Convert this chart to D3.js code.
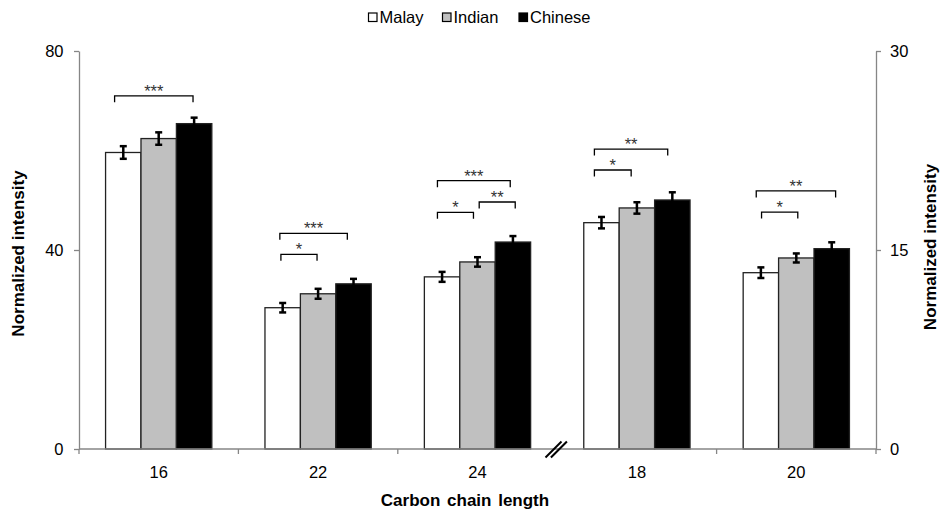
<!DOCTYPE html>
<html>
<head>
<meta charset="utf-8">
<script src="https://cdn.jsdelivr.net/npm/d3@7"></script>
<style>
html,body{margin:0;padding:0;background:#fff;}
svg{display:block;font-family:"Liberation Sans",Arial,sans-serif;}
</style>
</head>
<body>
<svg id="chart" width="948" height="510"></svg>
<script>
// ---- data ----
const categories = ["16", "22", "24", "18", "20"];
const categoryAxis = ["left", "left", "left", "right", "right"];
const seriesNames = ["Malay", "Indian", "Chinese"];
const seriesColors = ["#ffffff", "#c0c0c0", "#000000"];
const malay   = [59.6, 28.4, 34.6, 17.06, 13.29];
const indian  = [62.4, 31.2, 37.6, 18.17, 14.40];
const chinese = [65.4, 33.2, 41.6, 18.77, 15.10];
const malayErr   = [1.27, 0.95, 1.0, 0.43, 0.40];
const indianErr  = [1.25, 1.0, 0.95, 0.43, 0.34];
const chineseErr = [1.2, 1.0, 1.2, 0.58, 0.48];
const leftTicks = [0, 40, 80];
const rightTicks = [0, 15, 30];
// significance brackets: category, start/end as fraction of the group, level (axis units), label
const brackets = [
  {cat: "16", from: 0.085, to: 0.823, level: 71.0, label: "***"},
  {cat: "22", from: 0.14, to: 0.775, level: 43.36, label: "***"},
  {cat: "22", from: 0.15, to: 0.49, level: 39.13, label: "*"},
  {cat: "24", from: 0.123, to: 0.808, level: 53.93, label: "***"},
  {cat: "24", from: 0.123, to: 0.462, level: 47.58, label: "*"},
  {cat: "24", from: 0.516, to: 0.855, level: 49.65, label: "**"},
  {cat: "18", from: 0.10, to: 0.79, level: 22.61, label: "**"},
  {cat: "18", from: 0.10, to: 0.446, level: 21.03, label: "*"},
  {cat: "20", from: 0.123, to: 0.87, level: 19.45, label: "**"},
  {cat: "20", from: 0.173, to: 0.514, level: 17.86, label: "*"}
];

const values = [malay, indian, chinese];
const errors = [malayErr, indianErr, chineseErr];

// ---- layout ----
const svg = d3.select("#chart");
const X0 = 79, X1 = 876, Y0 = 449, Y1 = 51;
const axisColor = "#868686";
const FS = 16.5;

const x = d3.scaleBand().domain(categories).range([X0, X1]).paddingInner(1/3).paddingOuter(1/6);
const xs = d3.scaleBand().domain(d3.range(seriesNames.length)).range([0, x.bandwidth()]);
const yL = d3.scaleLinear().domain([0, 80]).range([Y0, Y1]);
const yR = d3.scaleLinear().domain([0, 30]).range([Y0, Y1]);
const yFor = i => categoryAxis[i] === "left" ? yL : yR;

// bars
categories.forEach((c, ci) => {
  const y = yFor(ci);
  const g = svg.append("g").attr("transform", `translate(${x(c)},0)`);
  seriesNames.forEach((s, si) => {
    const v = values[si][ci];
    g.append("rect")
      .attr("x", xs(si)).attr("width", xs.bandwidth())
      .attr("y", y(v)).attr("height", y(0) - y(v))
      .attr("fill", seriesColors[si])
      .attr("stroke", "#222").attr("stroke-width", 1.3);
  });
});

// axes
const leftAxis = d3.axisLeft(yL).tickValues(leftTicks).tickSize(5).tickSizeOuter(0).tickPadding(10.5);
const rightAxis = d3.axisRight(yR).tickValues(rightTicks).tickSize(5).tickSizeOuter(0).tickPadding(9);
function styleAxis(g){
  g.select(".domain").attr("stroke", axisColor).attr("stroke-width", 1.3);
  g.selectAll(".tick line").attr("stroke", axisColor).attr("stroke-width", 1.3);
  g.selectAll(".tick text").attr("fill", "#000").style("font-size", FS + "px")
    .style("font-family", '"Liberation Sans",Arial,sans-serif');
}
svg.append("g").attr("transform", `translate(${X0},0)`).call(leftAxis).call(styleAxis);
svg.append("g").attr("transform", `translate(${X1},0)`).call(rightAxis).call(styleAxis);

// x axis line and ticks
svg.append("line").attr("x1", X0).attr("x2", X1).attr("y1", Y0).attr("y2", Y0)
  .attr("stroke", axisColor).attr("stroke-width", 1.6);
const gapHalf = x.step() * x.paddingInner() / 2;
const boundaries = categories.map(c => x(c) - gapHalf).concat([x(categories[categories.length - 1]) + x.bandwidth() + gapHalf]);
const breakIndex = 3; // axis break between "24" and "18"
boundaries.forEach((b, i) => {
  if (i === breakIndex) return;
  svg.append("line").attr("x1", b).attr("x2", b).attr("y1", Y0).attr("y2", Y0 + 5)
    .attr("stroke", axisColor).attr("stroke-width", 1.3);
});
// category labels
svg.append("g").selectAll("text").data(categories).join("text")
  .attr("x", d => x(d) + x.bandwidth() / 2).attr("y", 477.5)
  .attr("text-anchor", "middle").style("font-size", FS + "px").text(d => d);

// break marks
const bx = boundaries[breakIndex] - 1;
[-2.7, 2.7].forEach(off => {
  svg.append("line")
    .attr("x1", bx + off - 8).attr("y1", Y0 + 8.5)
    .attr("x2", bx + off + 8).attr("y2", Y0 - 7.5)
    .attr("stroke", "#000").attr("stroke-width", 2);
});

// error bars
categories.forEach((c, ci) => {
  const y = yFor(ci);
  seriesNames.forEach((s, si) => {
    const v = values[si][ci], e = errors[si][ci];
    const cx = x(c) + xs(si) + xs.bandwidth() / 2;
    const g = svg.append("g").attr("stroke", "#000").attr("stroke-width", 2.5);
    g.append("line").attr("x1", cx).attr("x2", cx).attr("y1", y(v + e)).attr("y2", y(v - e));
    g.append("line").attr("x1", cx - 3.5).attr("x2", cx + 3.5).attr("y1", y(v + e)).attr("y2", y(v + e));
    g.append("line").attr("x1", cx - 3.5).attr("x2", cx + 3.5).attr("y1", y(v - e)).attr("y2", y(v - e));
  });
});

// significance brackets
brackets.forEach(b => {
  const ci = categories.indexOf(b.cat);
  const y = yFor(ci);
  const xa = x(b.cat) + b.from * x.bandwidth();
  const xb = x(b.cat) + b.to * x.bandwidth();
  const yy = y(b.level);
  svg.append("path")
    .attr("d", `M${xa},${yy + 6.5}V${yy}H${xb}V${yy + 6.5}`)
    .attr("fill", "none").attr("stroke", "#000").attr("stroke-width", 1.3);
  svg.append("text").attr("x", (xa + xb) / 2).attr("y", yy + 1)
    .attr("text-anchor", "middle").attr("fill", "#333")
    .style("font-size", FS + "px").text(b.label);
});

// legend
const legendItems = [
  {x: 368.5}, {x: 442.5}, {x: 519}
];
seriesNames.forEach((s, si) => {
  const lx = legendItems[si].x;
  svg.append("rect").attr("x", lx).attr("y", 13).attr("width", 8.5).attr("height", 8.5)
    .attr("fill", seriesColors[si]).attr("stroke", "#000").attr("stroke-width", 1.2);
  svg.append("text").attr("x", lx + 11).attr("y", 23.3)
    .style("font-size", FS + "px").text(s);
});

// axis titles
svg.append("text").attr("x", 465).attr("y", 506).attr("text-anchor", "middle")
  .style("font-size", "17px").style("font-weight", "bold").style("word-spacing", "2px")
  .text("Carbon chain length");
svg.append("text").attr("transform", "translate(23.5,253.5) rotate(-90)").attr("text-anchor", "middle")
  .style("font-size", "17px").style("font-weight", "bold").text("Normalized intensity");
svg.append("text").attr("transform", "translate(935.5,247) rotate(-90)").attr("text-anchor", "middle")
  .style("font-size", "17px").style("font-weight", "bold").text("Normalized intensity");
</script>
</body>
</html>
